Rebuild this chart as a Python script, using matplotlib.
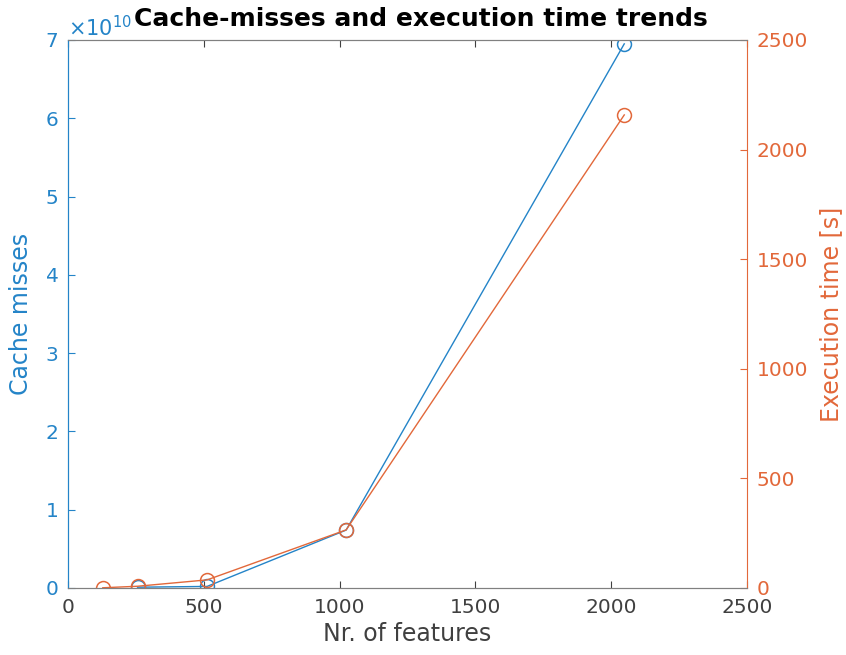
import matplotlib.pyplot as plt
from matplotlib.ticker import ScalarFormatter

# data
features_cache = [256, 512, 1024, 2048]
cache_misses = [0.01e10, 0.02e10, 0.74e10, 6.95e10]

features_time = [128, 256, 512, 1024, 2048]
exec_time = [1, 8, 37, 265, 2158]

blue = "#2484c8"
orange = "#e2683a"
gray = "#404040"

plt.rcParams["font.family"] = "DejaVu Sans"

fig = plt.figure(figsize=(8.46, 6.55), dpi=100)
ax = fig.add_axes([0.0804, 0.1023, 0.883 - 0.0804, 0.939 - 0.1023])
ax2 = ax.twinx()

ax.plot(features_cache, cache_misses, "-o", color=blue, lw=1, mfc="none", ms=10, mew=1.1)
ax2.plot(features_time, exec_time, "-o", color=orange, lw=1, mfc="none", ms=10, mew=1.1)

ax.set_xlim(0, 2500)
ax.set_ylim(0, 7e10)
ax2.set_ylim(0, 2500)
ax.set_xticks([0, 500, 1000, 1500, 2000, 2500])
ax.set_yticks([i * 1e10 for i in range(8)])
ax2.set_yticks([0, 500, 1000, 1500, 2000, 2500])

fmt = ScalarFormatter(useMathText=True)
fmt.set_powerlimits((0, 0))
ax.yaxis.set_major_formatter(fmt)
ax.yaxis.get_offset_text().set_color(blue)
ax.yaxis.get_offset_text().set_fontsize(15)

for a in (ax, ax2):
    a.tick_params(direction="in", labelsize=14.5, length=5, width=0.8, pad=7)
ax.tick_params(axis="x", colors=gray, top=True)
ax.tick_params(axis="y", colors=blue)
ax2.tick_params(axis="y", colors=orange)

for s in ("top", "bottom"):
    ax.spines[s].set_color("#808080")
    ax2.spines[s].set_color("#808080")
ax2.spines["left"].set_color(blue)
ax.spines["left"].set_color(blue)
ax2.spines["right"].set_color(orange)
ax.spines["right"].set_visible(False)

ax.set_xlabel("Nr. of features", fontsize=17, color=gray, labelpad=4)
ax.set_ylabel("Cache misses", fontsize=17, color=blue, labelpad=8)
ax2.set_ylabel("Execution time [s]", fontsize=17, color=orange, labelpad=8)
ax.set_title("Cache-misses and execution time trends", fontsize=18,
             fontweight="bold", pad=10, x=0.52)

fig.savefig("out.png", dpi=100)
